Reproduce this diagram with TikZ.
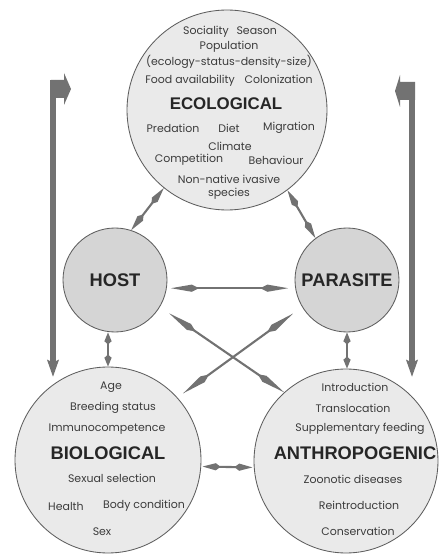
\documentclass[tikz,border=0pt]{standalone}
\usepackage{fontspec}
\setmainfont{Poppins}
\newfontfamily\headfont{Liberation Sans}
\usepackage{tikz}
\usetikzlibrary{arrows.meta}
\usetikzlibrary{calc}
\definecolor{circfill}{HTML}{EAEAEA}
\definecolor{smallfill}{HTML}{D5D5D5}
\definecolor{rim}{HTML}{5E5E5E}
\definecolor{arrgray}{HTML}{727272}
\definecolor{txtgray}{HTML}{3C3C3C}
\tikzset{
    factor/.style={circle, draw=rim, line width=0.6pt, fill=circfill, minimum size=#1, inner sep=0pt},
    actor/.style={circle, draw=rim, line width=0.6pt, fill=smallfill, minimum size=2.6cm, inner sep=0pt},
    head/.style={font=\headfont\bfseries\fontsize{13}{15}\selectfont, text=black!85},
    item/.style={font=\fontsize{7.8}{9}\selectfont, text=txtgray, inner sep=0pt},
    dbl/.style 2 args={draw=arrgray, line width=1.5pt, {Kite[length=#1,width=1.8mm,inset=#2]}-{Kite[length=#1,width=1.8mm,inset=#2]}},
    loop/.style={draw=arrgray, line width=4pt, -{Stealth[length=4.2mm,width=2.8mm,inset=0.6mm]}}
}

\begin{document}
\begin{tikzpicture}
            \useasboundingbox (0,0) rectangle (11.05,13.875);

            \node [factor=5cm] (eco) at(5.675,11.125) {};
            \node [actor, head] (host) at(2.875,6.875) {HOST};
            \node [actor, head] (parasite) at(8.675,6.875) {PARASITE};
            \node [factor=4.65cm] (bio) at(2.7,2.375) {};
            \node [factor=4.6cm] (anthro) at(8.65,2.35) {};

            \node [item] (soc) at(5.75,13.075) {Sociality\hspace{0.7em}Season};
            \node [item] (pop) at(5.725,12.7) {Population};
            \node [item] (popsub) at(5.725,12.325) {(ecology-status-density-size)};
            \node [item] (food) at(5.725,11.85) {Food availability\hspace{0.9em}Colonization};
            \node [head, font=\headfont\bfseries\fontsize{12}{14}\selectfont] (ecotitle) at(5.65,11.275) {ECOLOGICAL};
            \node [item] (pred) at(4.325,10.675) {Predation};
            \node [item] (diet) at(5.725,10.675) {Diet};
            \node [item] (migr) at(7.225,10.675) {Migration};
            \node [item] (clim) at(5.75,10.225) {Climate};
            \node [item] (comp) at(4.725,9.875) {Competition};
            \node [item] (behav) at(6.9,9.875) {Behaviour};
            \node [item, align=center] (nonnat) at(5.725,9.2) {Non-native ivasive\\[0pt]species};

            \node [item] (age) at(2.775,4.2) {Age};
            \node [item] (breed) at(2.825,3.675) {Breeding status};
            \node [item] (immuno) at(2.675,3.15) {Immunocompetence};
            \node [head] (biotitle) at(2.7,2.55) {BIOLOGICAL};
            \node [item] (sexsel) at(2.8,1.925) {Sexual selection};
            \node [item] (health) at(1.65,1.225) {Health};
            \node [item] (body) at(3.6,1.225) {Body condition};
            \node [item] (sex) at(2.55,0.575) {Sex};

            \node [item] (intro) at(8.875,4.2) {Introduction};
            \node [item] (transl) at(8.825,3.675) {Translocation};
            \node [item] (suppl) at(9.0,3.15) {Supplementary feeding};
            \node [head] (anthtitle) at(8.875,2.55) {ANTHROPOGENIC};
            \node [item] (zoon) at(8.825,1.9) {Zoonotic diseases};
            \node [item] (reintro) at(8.975,1.25) {Reintroduction};
            \node [item] (conserv) at(8.95,0.6) {Conservation};

            \draw [dbl={5mm}{1.3mm}] (eco.231) -- (host.72);
            \draw [dbl={5mm}{1.3mm}] (eco.307) -- (parasite.127);
            \draw [dbl={7mm}{1.8mm}, shorten <=3pt, shorten >=5pt] (host.351) -- (parasite.189);
            \draw [dbl={8mm}{2mm}, shorten <=8pt] (host.329) -- (anthro.132);
            \draw [dbl={8mm}{2mm}, shorten <=8pt, shorten >=5pt] (parasite.211) -- (bio.42);
            \draw [dbl={3mm}{0.8mm}] (bio.north |- host.south) -- (bio.north);
            \draw [dbl={3mm}{0.8mm}] (parasite.south) -- (parasite.south |- anthro.north);
            \draw [dbl={4.5mm}{1.2mm}, shorten <=1pt, shorten >=1pt] (bio.356) -- (anthro.184);

            \coordinate (ltop) at(1.325,11.875);
            \coordinate (lend) at(1.325,4.45);
            \coordinate (rtop) at(10.3,11.825);
            \coordinate (rend) at(10.3,4.45);
            \draw [loop] (ltop) -- (lend);
            \draw [loop] (rtop) -- (rend);
            \fill [arrgray] (1.275,11.875) -- (1.6,11.875) -- (1.6,12.05) -- (1.775,11.65) -- (1.6,11.25) -- (1.6,11.425) -- (1.275,11.425) -- cycle;
            \fill [arrgray] (10.375,11.825) -- (10.0,11.825) -- (10.0,12.0) -- (9.875,11.6) -- (10.0,11.2) -- (10.0,11.375) -- (10.375,11.375) -- cycle;
        \end{tikzpicture}
\end{document}
